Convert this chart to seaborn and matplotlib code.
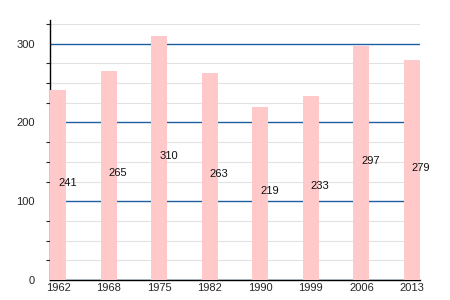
import matplotlib
matplotlib.use("Agg")
import matplotlib.pyplot as plt
import seaborn as sns
import pandas as pd
from matplotlib.ticker import MultipleLocator

years = ["1962", "1968", "1975", "1982", "1990", "1999", "2006", "2013"]
values = [241, 265, 310, 263, 219, 233, 297, 279]

df = pd.DataFrame({"year": years, "value": values})

sns.set_style("white")
plt.rcParams['font.family'] = ['Liberation Sans', 'DejaVu Sans']

fig = plt.figure(figsize=(4.5, 3), dpi=100)
ax = fig.add_axes([50/450, 20/300, 370/450, 260/300])

sns.barplot(data=df, x="year", y="value", color="#ffc9c9", saturation=1,
            width=0.32, ax=ax, zorder=3, linewidth=0)

for i, v in enumerate(values):
    ax.text(i, v / 2 + 3, str(v), ha="left", va="center", fontsize=8,
            color="#111111", zorder=4)

ax.set_xlim(-0.16, 7.16)
ax.set_ylim(0, 330)
ax.yaxis.set_major_locator(MultipleLocator(100))
ax.yaxis.set_minor_locator(MultipleLocator(25))
ax.grid(which="major", axis="y", color="#1f5f9f", linewidth=1.0, zorder=1)
ax.grid(which="minor", axis="y", color="#e2e2e2", linewidth=0.8, zorder=0)
ax.set_axisbelow(True)

for s in ["top", "right"]:
    ax.spines[s].set_visible(False)
ax.spines["left"].set_color("black")
ax.spines["bottom"].set_color("black")
ax.spines["left"].set_linewidth(1.0)
ax.spines["bottom"].set_linewidth(1.0)

ax.tick_params(axis="y", which="major", length=0, labelsize=8, pad=11)
ax.tick_params(axis="y", which="minor", length=3, width=0.8, direction="out", left=True)
ax.tick_params(axis="x", length=0, labelsize=8, pad=2)
ax.set_xlabel("")
ax.set_ylabel("")

fig.savefig("out.png", dpi=100)
